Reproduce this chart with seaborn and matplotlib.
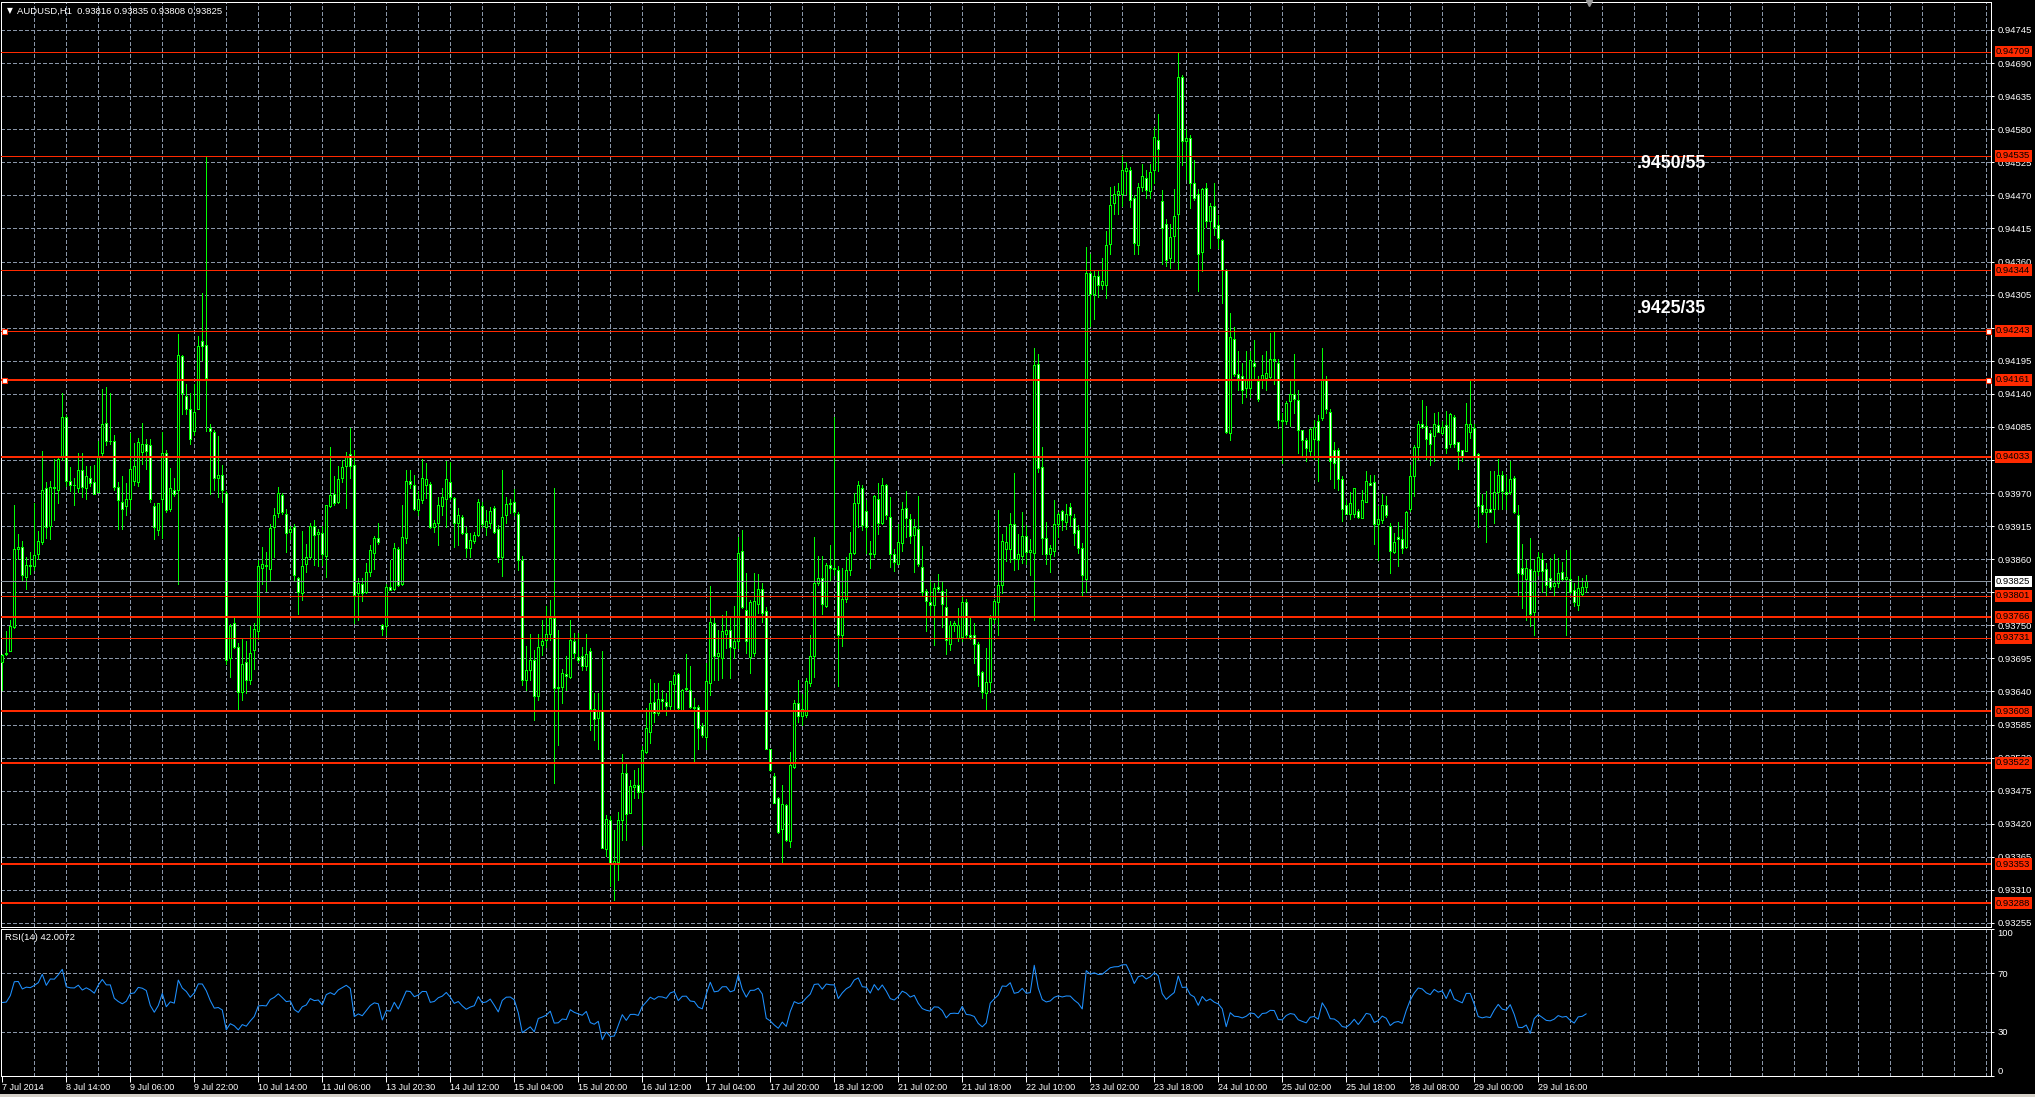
import numpy as np
import pandas as pd
import matplotlib
matplotlib.use("Agg")
import matplotlib.pyplot as plt
from matplotlib.transforms import blended_transform_factory
from matplotlib.patches import Rectangle
import seaborn as sns

# ---------------- data (prices in points, 1 point = 0.00001) ----------------
opens = [
    93690, 93703, 93708, 93749, 93879, 93883, 93833, 93853, 93850, 93871,
    93891, 93980, 93917, 93982, 93977, 94033, 94099, 93993, 93986, 93981,
    94011, 93981, 93997, 93990, 93974, 94039, 94090, 94059, 94059, 93982,
    93958, 93951, 93963, 93993, 93990, 94041, 94054, 94053, 93951, 93911,
    93962, 94039, 93946, 93977, 93977, 94201, 94134, 94113, 94076, 94113,
    94226, 94220, 94081, 94075, 93997, 94003, 93973, 93697, 93756, 93716,
    93640, 93690, 93660, 93710, 93743, 93848, 93852, 93845, 93916, 93939,
    93969, 93938, 93907, 93916, 93831, 93805, 93854, 93865, 93918, 93904,
    93906, 93868, 93951, 93971, 93958, 93997, 94017, 94038, 94019, 93805,
    93820, 93807, 93841, 93872, 93898, 93753, 93751, 93815, 93812, 93879,
    93820, 93897, 93992, 93985, 93944, 93961, 93985, 93988, 93916, 93923,
    93950, 93962, 93990, 93964, 93923, 93932, 93905, 93880, 93892, 93902,
    93951, 93915, 93923, 93947, 93913, 93865, 93935, 93954, 93957, 93938,
    93861, 93660, 93677, 93694, 93633, 93718, 93727, 93738, 93764, 93647,
    93649, 93670, 93666, 93726, 93699, 93700, 93683, 93709, 93612, 93597,
    93611, 93378, 93426, 93355, 93356, 93426, 93505, 93439, 93482, 93485,
    93473, 93541, 93573, 93624, 93606, 93628, 93624, 93617, 93653, 93670,
    93611, 93647, 93644, 93616, 93616, 93583, 93566, 93656, 93755, 93700,
    93697, 93737, 93744, 93714, 93726, 93876, 93778, 93699, 93705, 93788,
    93813, 93776, 93545, 93500, 93463, 93411, 93452, 93391, 93516, 93622,
    93600, 93602, 93656, 93701, 93823, 93830, 93784, 93853, 93848, 93844,
    93736, 93796, 93844, 93873, 93955, 93980, 93942, 93873, 93870, 93962,
    93923, 93985, 93932, 93870, 93854, 93889, 93948, 93929, 93902, 93912,
    93849, 93809, 93791, 93785, 93816, 93809, 93782, 93720, 93752, 93730,
    93733, 93790, 93736, 93735, 93720, 93674, 93639, 93657, 93762, 93790,
    93819, 93879, 93879, 93921, 93863, 93867, 93901, 93874, 93872, 94187,
    94015, 93897, 93870, 93876, 93921, 93943, 93924, 93949, 93930, 93910,
    93881, 93829, 94339, 94305, 94334, 94320, 94320, 94388, 94457, 94471,
    94472, 94510, 94512, 94465, 94386, 94483, 94498, 94476, 94512, 94562,
    94460, 94422, 94365, 94402, 94438, 94666, 94559, 94564, 94490, 94472,
    94374, 94481, 94427, 94452, 94419, 94395, 94344, 94073, 94229, 94171,
    94168, 94147, 94147, 94190, 94160, 94161, 94164, 94166, 94196, 94190,
    94095, 94093, 94126, 94137, 94128, 94077, 94061, 94043, 94063, 94093,
    94097, 94161, 94108, 94045, 94045, 93996, 93952, 93937, 93938, 93943,
    93931, 93957, 93989, 93991, 93920, 93927, 93952, 93918, 93874, 93899,
    93895, 93883, 93945, 94001, 94050, 94088, 94085, 94072, 94068, 94086,
    94073, 94086, 94054, 94099, 94057, 94045, 94043, 94074, 94081, 94038,
    93953, 93940, 93946, 93946, 93974, 94003, 93974, 93974, 93998, 93936,
    93848, 93829, 93846, 93774, 93843, 93863, 93846, 93830, 93818, 93822,
    93840, 93829, 93829, 93811, 93786, 93804, 93816,
]
highs = [
    93703, 93743, 93761, 93953, 93904, 93893, 93866, 93874, 93955, 93909,
    94042, 93990, 93993, 94030, 94031, 94140, 94102, 94015, 93998, 94039,
    94039, 94017, 94018, 94020, 94060, 94146, 94149, 94140, 94069, 93990,
    94001, 93989, 94072, 94056, 94064, 94090, 94062, 94062, 93955, 93956,
    94075, 94045, 94014, 93997, 94238, 94203, 94154, 94140, 94155, 94235,
    94306, 94535, 94087, 94077, 94068, 94020, 93975, 93754, 93766, 93722,
    93729, 93726, 93751, 93756, 93860, 93883, 93874, 93920, 93947, 93982,
    93973, 93946, 93917, 93920, 93832, 93909, 93888, 93923, 93928, 93912,
    93917, 93953, 94050, 94001, 94017, 94027, 94041, 94081, 94045, 93831,
    93830, 93856, 93885, 93901, 93923, 93754, 93821, 93860, 93889, 93882,
    93953, 94010, 94010, 94002, 93975, 94030, 94022, 93990, 93928, 93966,
    93980, 94026, 94025, 93966, 93948, 93936, 93915, 93905, 93908, 93963,
    93958, 93944, 93949, 93950, 93919, 94010, 93966, 93963, 93979, 93940,
    93867, 93717, 93738, 93711, 93738, 93761, 93784, 93794, 93980, 93744,
    93678, 93700, 93761, 93739, 93739, 93716, 93738, 93713, 93638, 93639,
    93709, 93435, 93433, 93410, 93441, 93537, 93522, 93494, 93510, 93513,
    93550, 93613, 93662, 93655, 93655, 93644, 93639, 93659, 93673, 93672,
    93645, 93704, 93683, 93630, 93619, 93589, 93689, 93817, 93765, 93744,
    93769, 93776, 93767, 93784, 93899, 93911, 93839, 93794, 93839, 93837,
    93823, 93783, 93546, 93506, 93466, 93485, 93454, 93541, 93627, 93661,
    93637, 93663, 93736, 93899, 93867, 93867, 93855, 93886, 94100, 93851,
    93848, 93865, 93908, 93973, 93992, 93985, 93961, 93892, 93969, 93989,
    93998, 93988, 93966, 93879, 93921, 93957, 93976, 93938, 93929, 93967,
    93884, 93812, 93828, 93822, 93838, 93826, 93812, 93759, 93759, 93780,
    93801, 93796, 93767, 93755, 93723, 93676, 93713, 93769, 93796, 93944,
    93904, 93915, 93939, 94006, 93904, 93940, 93919, 93895, 94215, 94205,
    94049, 93924, 93886, 93961, 93940, 93944, 93954, 93956, 93938, 93919,
    93889, 94383, 94371, 94345, 94344, 94364, 94410, 94483, 94485, 94490,
    94536, 94524, 94517, 94469, 94490, 94521, 94511, 94521, 94583, 94605,
    94478, 94429, 94421, 94479, 94708, 94670, 94580, 94570, 94528, 94479,
    94481, 94490, 94457, 94490, 94436, 94396, 94346, 94272, 94249, 94210,
    94189, 94210, 94210, 94227, 94168, 94203, 94210, 94239, 94241, 94196,
    94106, 94126, 94161, 94205, 94144, 94078, 94064, 94081, 94095, 94102,
    94215, 94168, 94113, 94057, 94047, 94000, 93960, 93974, 93981, 93946,
    93977, 94009, 94002, 94002, 93950, 93971, 93967, 93923, 93905, 93924,
    93912, 93943, 94019, 94052, 94092, 94128, 94118, 94078, 94106, 94108,
    94093, 94109, 94106, 94102, 94057, 94045, 94123, 94160, 94088, 94040,
    93971, 93976, 94009, 94009, 94030, 94009, 94002, 94026, 94000, 93953,
    93888, 93860, 93898, 93860, 93874, 93872, 93856, 93864, 93870, 93864,
    93857, 93877, 93877, 93822, 93834, 93830, 93835,
]
lows = [
    93643, 93702, 93708, 93747, 93863, 93826, 93812, 93837, 93844, 93863,
    93888, 93898, 93895, 93927, 93956, 94027, 93984, 93975, 93953, 93974,
    93965, 93963, 93984, 93970, 93974, 94035, 94053, 94054, 93977, 93912,
    93912, 93936, 93946, 93985, 93984, 94021, 94013, 93957, 93896, 93902,
    93898, 93941, 93943, 93968, 93821, 94105, 94105, 94054, 94069, 94112,
    94195, 94076, 93971, 93977, 93965, 93958, 93687, 93665, 93713, 93611,
    93627, 93639, 93653, 93678, 93729, 93821, 93809, 93826, 93866, 93932,
    93938, 93874, 93895, 93828, 93770, 93794, 93840, 93864, 93853, 93850,
    93853, 93832, 93949, 93952, 93956, 93990, 93948, 93997, 93756, 93761,
    93793, 93805, 93834, 93845, 93888, 93735, 93735, 93810, 93810, 93818,
    93819, 93889, 93980, 93944, 93936, 93955, 93964, 93914, 93908, 93886,
    93936, 93916, 93963, 93883, 93886, 93904, 93866, 93866, 93889, 93900,
    93916, 93902, 93914, 93905, 93858, 93834, 93922, 93939, 93936, 93844,
    93652, 93644, 93660, 93594, 93627, 93702, 93716, 93727, 93488, 93552,
    93622, 93644, 93663, 93697, 93691, 93677, 93677, 93577, 93560, 93546,
    93380, 93366, 93316, 93293, 93327, 93394, 93393, 93439, 93463, 93463,
    93385, 93539, 93555, 93591, 93602, 93610, 93602, 93610, 93610, 93608,
    93608, 93644, 93613, 93522, 93546, 93566, 93546, 93636, 93660, 93660,
    93663, 93714, 93663, 93697, 93714, 93780, 93705, 93672, 93700, 93772,
    93758, 93546, 93508, 93455, 93405, 93355, 93391, 93382, 93513, 93590,
    93586, 93599, 93650, 93666, 93819, 93771, 93783, 93828, 93836, 93651,
    93717, 93790, 93835, 93870, 93915, 93910, 93873, 93848, 93865, 93904,
    93921, 93929, 93849, 93842, 93854, 93876, 93899, 93889, 93841, 93851,
    93803, 93742, 93766, 93718, 93809, 93749, 93704, 93710, 93742, 93726,
    93726, 93733, 93729, 93688, 93650, 93630, 93608, 93640, 93755, 93736,
    93806, 93859, 93857, 93844, 93846, 93855, 93854, 93835, 93761, 94007,
    93870, 93854, 93840, 93868, 93899, 93911, 93913, 93918, 93886, 93873,
    93803, 93808, 94251, 94262, 94299, 94313, 94297, 94372, 94438, 94438,
    94452, 94472, 94449, 94372, 94372, 94476, 94465, 94465, 94490, 94510,
    94355, 94351, 94348, 94358, 94344, 94520, 94497, 94448, 94462, 94310,
    94343, 94417, 94382, 94403, 94382, 94289, 94072, 94061, 94168, 94144,
    94123, 94133, 94133, 94165, 94126, 94147, 94144, 94161, 94154, 94081,
    94023, 94088, 94085, 94106, 94040, 94036, 94026, 94034, 94030, 93992,
    94095, 94106, 93995, 93981, 93978, 93926, 93937, 93929, 93933, 93931,
    93930, 93957, 93985, 93888, 93860, 93922, 93933, 93839, 93873, 93850,
    93873, 93881, 93943, 93967, 94029, 94081, 94030, 94019, 94026, 94074,
    94071, 94040, 94050, 94050, 94012, 94026, 94043, 94064, 94029, 93915,
    93937, 93891, 93940, 93922, 93946, 93946, 93945, 93970, 93939, 93801,
    93780, 93760, 93750, 93736, 93836, 93808, 93801, 93813, 93801, 93815,
    93826, 93736, 93805, 93784, 93777, 93800, 93808,
]
closes = [
    93702, 93705, 93751, 93879, 93882, 93836, 93853, 93850, 93869, 93893,
    93977, 93916, 93982, 93981, 94030, 94099, 93993, 93986, 93985, 94011,
    93982, 94001, 93989, 93971, 94035, 94088, 94059, 94059, 93982, 93961,
    93946, 93962, 94013, 94018, 94058, 94054, 94043, 93962, 93916, 93955,
    94039, 93944, 93981, 93971, 94203, 94140, 94112, 94062, 94108, 94218,
    94217, 94164, 94076, 93997, 94003, 93977, 93694, 93751, 93715, 93640,
    93687, 93660, 93705, 93745, 93850, 93854, 93850, 93914, 93936, 93973,
    93941, 93906, 93912, 93835, 93807, 93851, 93865, 93918, 93902, 93907,
    93871, 93952, 93969, 93956, 93995, 94015, 94035, 94018, 93803, 93823,
    93805, 93840, 93878, 93898, 93891, 93745, 93815, 93810, 93880, 93819,
    93899, 93992, 93988, 93946, 93962, 93997, 93996, 93915, 93922, 93952,
    93965, 93995, 93965, 93922, 93935, 93905, 93881, 93894, 93902, 93958,
    93921, 93926, 93943, 93908, 93866, 93933, 93954, 93955, 93940, 93861,
    93660, 93677, 93694, 93633, 93716, 93726, 93738, 93764, 93647, 93649,
    93672, 93667, 93728, 93706, 93694, 93683, 93704, 93612, 93596, 93611,
    93380, 93428, 93355, 93358, 93426, 93505, 93437, 93484, 93485, 93474,
    93543, 93580, 93622, 93605, 93628, 93626, 93617, 93658, 93669, 93613,
    93644, 93645, 93616, 93613, 93580, 93569, 93658, 93758, 93700, 93706,
    93743, 93744, 93716, 93726, 93873, 93783, 93726, 93791, 93792, 93812,
    93773, 93546, 93510, 93455, 93407, 93453, 93393, 93519, 93622, 93601,
    93612, 93659, 93701, 93823, 93830, 93787, 93853, 93847, 93846, 93736,
    93796, 93844, 93872, 93955, 93985, 93919, 93915, 93870, 93967, 93923,
    93985, 93936, 93870, 93857, 93891, 93946, 93931, 93900, 93916, 93854,
    93808, 93793, 93785, 93814, 93812, 93787, 93728, 93753, 93755, 93752,
    93791, 93736, 93732, 93721, 93669, 93640, 93657, 93764, 93793, 93819,
    93892, 93890, 93921, 93863, 93870, 93900, 93874, 93878, 94186, 94014,
    93897, 93870, 93881, 93921, 93937, 93927, 93937, 93936, 93905, 93881,
    93835, 94339, 94305, 94335, 94320, 94326, 94387, 94453, 94472, 94476,
    94512, 94514, 94462, 94389, 94483, 94502, 94478, 94508, 94566, 94547,
    94414, 94362, 94400, 94434, 94666, 94559, 94564, 94490, 94465, 94372,
    94479, 94427, 94452, 94417, 94398, 94344, 94075, 94232, 94171, 94165,
    94144, 94161, 94194, 94185, 94130, 94169, 94173, 94196, 94194, 94095,
    94092, 94123, 94137, 94130, 94078, 94061, 94047, 94079, 94083, 94061,
    94161, 94113, 94026, 94023, 93996, 93946, 93938, 93955, 93980, 93933,
    93960, 93993, 93986, 93920, 93929, 93952, 93936, 93876, 93891, 93895,
    93881, 93941, 94001, 94050, 94088, 94083, 94063, 94054, 94088, 94075,
    94083, 94047, 94104, 94054, 94043, 94033, 94088, 94088, 94033, 93950,
    93940, 93945, 93940, 93974, 94003, 93976, 93970, 93996, 93940, 93839,
    93837, 93848, 93770, 93843, 93865, 93843, 93819, 93815, 93823, 93839,
    93829, 93832, 93808, 93791, 93814, 93816, 93825,
]

level_prices = [0.94709, 0.94535, 0.94344, 0.94243, 0.94161, 0.94033, 0.93801,
                0.93766, 0.93731, 0.93608, 0.93522, 0.93353, 0.93288]
level_widths = [1, 1, 1, 1, 2, 2, 1, 2, 1, 2, 2, 2, 2]   # px
handle_levels = [0.94243, 0.94161]
current_price = 0.93825

price_tick_labels = ["0.93255", "0.93310", "0.93365", "0.93420", "0.93475", "0.93530",
                     "0.93585", "0.93640", "0.93695", "0.93750", "0.93805", "0.93860",
                     "0.93915", "0.93970", "0.94030", "0.94085", "0.94140", "0.94195",
                     "0.94250", "0.94305", "0.94360", "0.94415", "0.94470", "0.94525",
                     "0.94580", "0.94635", "0.94690", "0.94745"]
time_labels = ["7 Jul 2014", "8 Jul 14:00", "9 Jul 06:00", "9 Jul 22:00", "10 Jul 14:00",
               "11 Jul 06:00", "13 Jul 20:30", "14 Jul 12:00", "15 Jul 04:00", "15 Jul 20:00",
               "16 Jul 12:00", "17 Jul 04:00", "17 Jul 20:00", "18 Jul 12:00", "21 Jul 02:00",
               "21 Jul 18:00", "22 Jul 10:00", "23 Jul 02:00", "23 Jul 18:00", "24 Jul 10:00",
               "25 Jul 02:00", "25 Jul 18:00", "28 Jul 08:00", "29 Jul 00:00", "29 Jul 16:00"]
rsi_ticks = [0, 30, 70, 100]
rsi_levels = [70, 30]
annotations = [(".9450/55", 0.94523), (".9425/35", 0.94281)]
title_text = "AUDUSD,H1  0.93816 0.93835 0.93808 0.93825"
rsi_text = "RSI(14) 42.0072"

# ---------------- style ----------------
sns.set_style("ticks", {"axes.facecolor": "black", "figure.facecolor": "black"})
plt.rcParams['font.family'] = ['Liberation Sans', 'DejaVu Sans']
plt.rcParams['lines.scale_dashes'] = False

LIME = '#00ff00'
RED = '#ff2a00'
GRIDC = '#8a96a8'
PX = 0.72  # one pixel in points at 100 dpi
DASH = (0, (2.2, 1.5))
W, H = 2035, 1097
BARS_PER_GRID = 8

fig = plt.figure(figsize=(W / 100, H / 100), dpi=100, facecolor='black')


def frac(x0, y0, x1, y1):
    return [x0 / W, 1 - y1 / H, (x1 - x0) / W, (y1 - y0) / H]


ax = fig.add_axes(frac(1, 2, 1991, 927))
ax2 = fig.add_axes(frac(1, 929, 1991, 1076))
for a in (ax, ax2):
    a.set_facecolor('black')
    for s in a.spines.values():
        s.set_color('white')
        s.set_linewidth(PX)

xmin, xmax = -0.325, 497.2
ax.set_xlim(xmin, xmax)
ax2.set_xlim(xmin, xmax)
ax.set_ylim(0.932483, 0.947917)
ax2.set_ylim(0, 100)

# ---------------- grid ----------------
for k in range(1, int(xmax // BARS_PER_GRID) + 1):
    for a in (ax, ax2):
        a.axvline(k * BARS_PER_GRID, color=GRIDC, lw=PX, ls=DASH, zorder=0.5, antialiased=False)
tick_vals = np.linspace(float(price_tick_labels[0]), float(price_tick_labels[-1]), len(price_tick_labels))
for v in tick_vals:
    ax.axhline(v, color=GRIDC, lw=PX, ls=DASH, zorder=0.5, antialiased=False)
for lv in rsi_levels:
    ax2.axhline(lv, color=GRIDC, lw=PX, ls=DASH, zorder=0.5, antialiased=False)

# ---------------- candles ----------------
o = np.array(opens) * 1e-5
h = np.array(highs) * 1e-5
l = np.array(lows) * 1e-5
c = np.array(closes) * 1e-5
n = min(len(o), len(h), len(l), len(c))
o, h, l, c = o[:n], h[:n], l[:n], c[:n]
idx = np.arange(n)
bull = c >= o
faces = np.where(bull, 'black', 'white')
bottoms = np.minimum(o, c)
heights = np.maximum(np.abs(c - o), 2e-6)

ax.vlines(idx, l, h, colors=LIME, linewidth=PX, zorder=2, antialiased=False)
ax.bar(idx, heights, bottom=bottoms, width=0.52, color=faces, edgecolor=LIME,
       linewidth=PX, zorder=3, antialiased=False)

# ---------------- horizontal levels ----------------
ax.axhline(current_price, color='#8c96a2', lw=PX, zorder=3.5, antialiased=False)
for p, wpx in zip(level_prices, level_widths):
    ax.axhline(p, color=RED, lw=wpx * PX, zorder=4, antialiased=False)
for p in handle_levels:
    ax.plot([0.45, 496.4], [p, p], 's', ms=3.6, mfc='white', mec=RED, mew=0.8,
            zorder=6, clip_on=False)

# price axis
ax.yaxis.tick_right()
ax.set_yticks(tick_vals)
ax.set_yticklabels(price_tick_labels)
ax.tick_params(axis='y', colors='white', labelsize=6.8, length=2.5, width=PX, pad=2.2,
               direction='out')
ax.set_xticks([])
ax.set_xlabel('')
ax.set_ylabel('')

label_kw = dict(xycoords=('axes fraction', 'data'), textcoords='offset pixels',
                fontsize=6.8, va='center', ha='left', annotation_clip=False, zorder=10)
for p in level_prices:
    ax.annotate(f"{p:.5f}", xy=(1, p), xytext=(5, 0), color='black',
                bbox=dict(boxstyle='square,pad=0.14', fc=RED, ec='none'), **label_kw)
ax.annotate(f"{current_price:.5f}", xy=(1, current_price), xytext=(5, 0), color='black',
            bbox=dict(boxstyle='square,pad=0.14', fc='white', ec='none'), **label_kw)

# text annotations
for txt, p in annotations:
    ax.text(408.7, p, txt, color='white', fontsize=12.8, fontweight='bold',
            va='center', ha='left', zorder=8)

# chart-shift marker at top
trans = blended_transform_factory(ax.transData, ax.transAxes)
ax.plot([396.7], [0.9985], marker='v', ms=4.5, color='#9a9a9a', transform=trans,
        clip_on=False, zorder=9)

# ---------------- RSI ----------------
delta = np.diff(c, prepend=c[0])
gains = np.clip(delta, 0, None)
losses = np.clip(-delta, 0, None)
avg_g = avg_l = np.mean(np.abs(delta[1:15])) / 2
rsi = np.full(n, 50.0)
for i in range(1, n):
    avg_g = (avg_g * 13 + gains[i]) / 14
    avg_l = (avg_l * 13 + losses[i]) / 14
    rsi[i] = 100 - 100 / (1 + avg_g / avg_l) if avg_l > 0 else 100
rsi_df = pd.DataFrame({"bar": idx, "rsi": rsi})
sns.lineplot(data=rsi_df, x="bar", y="rsi", ax=ax2, color='#1e90ff', lw=PX * 1.05, zorder=3)
ax2.set_xlabel('')
ax2.set_ylabel('')

ax2.yaxis.tick_right()
ax2.set_yticks(rsi_ticks)
ax2.set_yticklabels([str(t) for t in rsi_ticks])
ax2.tick_params(axis='y', colors='white', labelsize=6.8, length=2.5, width=PX, pad=2.2)
for lab, t in zip(ax2.get_yticklabels(), rsi_ticks):
    if t == 100:
        lab.set_va('top')
    elif t == 0:
        lab.set_va('bottom')

tick_bars = [16 * k for k in range(len(time_labels))]
ax2.set_xticks(tick_bars)
ax2.set_xticklabels(time_labels)
ax2.tick_params(axis='x', colors='white', labelsize=6.5, length=4, width=PX, pad=1.0,
                direction='out')
for lab in ax2.get_xticklabels():
    lab.set_ha('left')

# ---------------- header texts ----------------
fig.text(7 / W, 1 - 11 / H, '▼', color='white', fontsize=5.5, va='center', ha='left',
         family=['DejaVu Sans'])
fig.text(17 / W, 1 - 11 / H, title_text, color='white', fontsize=6.8, va='center', ha='left')
fig.text(5 / W, 1 - 937 / H, rsi_text, color='white', fontsize=6.8, va='center', ha='left')

# bottom window strip
fig.patches.append(Rectangle((0, 0), 1, 3 / H, transform=fig.transFigure,
                             fc='#d4d0c8', ec='none', zorder=0))

fig.savefig('out.png', dpi=100, facecolor='black')
